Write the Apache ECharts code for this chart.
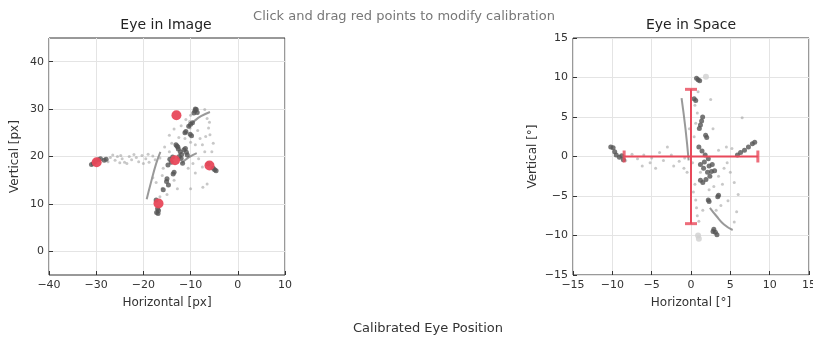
<!DOCTYPE html>
<html>
<head>
<meta charset="utf-8">
<script src="https://cdn.jsdelivr.net/npm/echarts@6/dist/echarts.min.js"></script>
<style>
  html, body { margin: 0; padding: 0; background: #fff; }
  #chart { width: 813px; height: 338px; }
</style>
</head>
<body>
<div id="chart"></div>
<script>
// ---- Eye in Image (pixel coordinates) ----
const imgXTicks = [-40, -30, -20, -10, 0, 10];
const imgYTicks = [0, 10, 20, 30, 40];

// calibration points (draggable in the original tool)
const imgCalPoints = [[-29.9, 18.8], [-13.0, 28.7], [-13.3, 19.2], [-6.0, 18.1], [-16.8, 10.1]];

// dense fixation samples
const imgDense = [
  [-31.0, 18.3], [-30.6, 18.5], [-30.2, 18.9], [-29.5, 19.3], [-29.1, 19.5], [-27.9, 19.4], [-28.3, 19.2],
  [-17.2, 8.2], [-16.8, 8.6], [-17.0, 9.0], [-17.3, 10.8], [-16.9, 8.0],
  [-9.1, 29.6], [-8.8, 29.9], [-8.6, 29.3], [-9.3, 29.2], [-9.0, 30.0],
  [-10.4, 26.4], [-10.0, 26.8], [-9.6, 27.1],
  [-9.8, 24.4], [-10.1, 24.7], [-11.2, 25.0], [-11.0, 25.3],
  [-13.1, 22.5], [-12.9, 22.2], [-12.7, 22.0], [-12.6, 21.6], [-12.2, 21.0], [-11.9, 20.4], [-11.4, 21.4],
  [-11.1, 21.7], [-10.9, 20.9], [-10.7, 20.3], [-12.0, 19.6], [-11.7, 18.6], [-12.4, 20.0],
  [-14.4, 19.4], [-14.8, 18.2], [-13.8, 19.9], [-14.1, 18.8],
  [-13.7, 16.3], [-13.5, 16.7], [-15.1, 14.7], [-14.7, 14.0], [-15.0, 15.3], [-15.8, 13.0],
  [-6.3, 18.4], [-5.2, 17.5], [-4.6, 17.0], [-4.9, 17.2]
];

// saccade samples
const imgSparse = [
  [-27.0, 19.8], [-26.0, 19.2], [-25.5, 20.0], [-24.5, 19.5], [-24.0, 18.8], [-23.0, 20.0],
  [-22.5, 19.3], [-21.5, 19.8], [-21.0, 18.9], [-20.3, 20.2], [-19.5, 19.5], [-18.8, 18.8],
  [-18.0, 20.1], [-17.5, 19.3], [-27.5, 18.9], [-25.0, 18.7], [-23.5, 18.5], [-20.0, 18.5], [-16.5, 19.7],
  [-26.5, 20.3], [-22.0, 20.4], [-19.0, 20.5], [-24.8, 20.2],
  [-14.5, 24.5], [-13.5, 25.8], [-12.0, 26.5], [-11.0, 27.8], [-10.0, 28.7], [-7.0, 29.9],
  [-6.5, 28.0], [-6.2, 26.0], [-6.0, 27.2], [-5.9, 24.6], [-6.8, 24.2], [-7.5, 22.5], [-8.0, 23.8],
  [-9.0, 22.5], [-10.0, 23.0], [-10.1, 26.0], [-10.2, 27.4], [-8.5, 25.5], [-7.0, 21.0],
  [-8.3, 19.5], [-9.5, 18.5], [-10.5, 17.5], [-9.0, 16.5], [-7.5, 17.8], [-7.4, 13.5], [-6.5, 14.2],
  [-15.5, 22.0], [-14.5, 21.0], [-15.8, 17.5], [-16.0, 16.0], [-14.0, 19.0], [-13.5, 15.0],
  [-12.8, 13.2], [-16.5, 11.5], [-15.0, 12.0], [-14.0, 22.8], [-11.2, 23.8], [-12.5, 24.0],
  [-5.5, 21.0], [-5.2, 22.8], [-17.3, 14.5], [-18.0, 15.5], [-16.0, 13.3], [-17.5, 10.5], [-10.0, 13.2]
];

// smooth-pursuit traces
const imgTraces = [
  [[-19.3, 11.0], [-18.4, 14.5], [-17.3, 18.5], [-16.4, 21.0]],
  [[-10.5, 26.3], [-9.3, 27.4], [-7.8, 28.5], [-5.9, 29.4]],
  [[-11.9, 18.6], [-10.4, 19.8], [-8.7, 20.7]]
];

// ---- Eye in Space (degrees) ----
const spaceTicks = [-15, -10, -5, 0, 5, 10, 15];
const spaceTargetH = [-8.5, 8.5];
const spaceTargetV = [-8.5, 8.5];

const spaceDense = [
  [-10.2, 1.2], [-9.9, 1.1], [-9.7, 0.6], [-9.5, 0.2], [-9.1, -0.1], [-8.8, 0.1], [-8.6, -0.4],
  [0.7, 9.9], [1.1, 9.6], [0.9, 9.7],
  [0.4, 7.3], [0.6, 7.1],
  [1.06, 3.56], [1.2, 4.0], [1.35, 4.5], [1.48, 5.0],
  [1.86, 2.7], [2.0, 2.4],
  [1.0, 1.2], [1.4, 0.7], [1.8, 0.2], [2.2, -0.3], [1.7, -0.7], [1.2, -1.0], [1.6, -1.5],
  [2.1, -2.0], [2.6, -1.9], [3.0, -1.8], [2.4, -2.5], [1.9, -2.9], [1.5, -3.3], [1.2, -3.0],
  [2.3, -1.2], [2.7, -1.0],
  [2.2, -5.5], [2.3, -5.7], [3.5, -4.9], [3.4, -5.1],
  [2.9, -9.2], [3.1, -9.6], [3.3, -9.9], [2.8, -9.5],
  [5.9, 0.2], [6.3, 0.5], [6.8, 0.8], [7.3, 1.2], [7.8, 1.6], [8.1, 1.8]
];

const spaceFaint = [[1.9, 10.1], [1.0, -10.4], [0.9, -10.0]];

const spaceSparse = [
  [-8.3, -0.5], [-7.5, 0.3], [-6.8, -0.3], [-6.0, 0.2], [-5.0, -0.2], [-5.2, -0.8], [-4.0, 0.5],
  [-3.5, -0.5], [-2.5, 0.2], [-2.2, -1.2], [-1.5, -0.6], [-0.8, -0.2], [-0.9, -1.5], [-0.5, -2.0],
  [0.5, -3.5], [0.3, -4.5], [0.6, -5.5], [0.7, -6.5], [0.8, -7.5], [1.0, -8.2], [1.5, -6.8],
  [0.5, 6.5], [0.8, 5.5], [0.6, 4.2], [0.9, 8.2], [0.4, 2.5], [1.2, -2.0], [3.5, -2.5],
  [4.2, -1.5], [4.6, -0.8], [5.0, -2.0], [5.5, -3.3], [4.0, -3.5], [6.5, 4.9], [5.2, 1.0],
  [4.5, 1.2], [3.5, 0.8], [6.0, -4.8], [5.8, -7.0], [5.5, -8.3], [3.8, -6.2], [4.7, -5.6],
  [2.5, 7.2], [2.8, 3.5], [-3.0, 1.2], [-6.2, -1.2], [-4.5, -1.5], [-0.2, 3.5], [0.2, -0.8],
  [2.3, -4.2], [2.9, -3.8], [3.2, -6.8]
];

const spaceTraces = [
  [[-1.2, 7.4], [-0.7, 3.5], [-0.3, -0.5]],
  [[2.4, -6.5], [3.2, -7.5], [4.2, -8.6], [5.3, -9.3]]
];

// ---- styling ----
const FONT = 'DejaVu Sans';
const RED = '#e8485a';
const minus = v => String(v).replace('-', '\u2212');

function makeGrid(left) {
  return { left: left, top: 38, width: 236, height: 237, show: true,
           outerBoundsMode: 'none', containLabel: false,
           borderColor: '#333', borderWidth: 1, backgroundColor: '#fff' };
}
function makeAxis(gridIndex, min, max, name, gap, ticks) {
  return {
    type: 'value', gridIndex, min, max,
    name, nameLocation: 'middle', nameGap: gap,
    nameTextStyle: { fontFamily: FONT, fontSize: 12, color: '#333' },
    axisLine: { show: false, onZero: false },
    axisTick: { show: true, inside: true, length: 4, lineStyle: { color: '#333' }, customValues: ticks },
    axisLabel: { fontFamily: FONT, fontSize: 11, color: '#333', margin: 5, formatter: minus,
                 customValues: ticks, showMinLabel: true, showMaxLabel: true },
    splitLine: { show: true, lineStyle: { color: '#e4e4e4', width: 1 } }
  };
}

const series = [];
imgTraces.forEach(t => series.push({
  type: 'line', xAxisIndex: 0, yAxisIndex: 0, data: t, showSymbol: false, smooth: true,
  lineStyle: { color: '#808080', width: 2, opacity: 0.8 }, silent: true, z: 2
}));
series.push({ type: 'scatter', xAxisIndex: 0, yAxisIndex: 0, data: imgSparse, symbolSize: 3,
  itemStyle: { color: '#9a9a9a', opacity: 0.55 }, z: 2 });
series.push({ type: 'scatter', xAxisIndex: 0, yAxisIndex: 0, data: imgDense, symbolSize: 5,
  itemStyle: { color: '#555', opacity: 0.8 }, z: 3 });
series.push({ type: 'scatter', xAxisIndex: 0, yAxisIndex: 0, data: imgCalPoints, symbolSize: 10,
  itemStyle: { color: RED, opacity: 0.95 }, z: 5 });

spaceTraces.forEach(t => series.push({
  type: 'line', xAxisIndex: 1, yAxisIndex: 1, data: t, showSymbol: false, smooth: true,
  lineStyle: { color: '#808080', width: 2, opacity: 0.8 }, silent: true, z: 2
}));
series.push({ type: 'scatter', xAxisIndex: 1, yAxisIndex: 1, data: spaceSparse, symbolSize: 3,
  itemStyle: { color: '#9a9a9a', opacity: 0.55 }, z: 2 });
series.push({ type: 'scatter', xAxisIndex: 1, yAxisIndex: 1, data: spaceFaint, symbolSize: 6,
  itemStyle: { color: '#cfcfcf', opacity: 0.8 }, z: 2 });
// calibration target cross
series.push({ type: 'line', xAxisIndex: 1, yAxisIndex: 1, data: spaceTargetH.map(v => [v, 0]),
  showSymbol: false, lineStyle: { color: RED, width: 2 }, z: 4 });
series.push({ type: 'line', xAxisIndex: 1, yAxisIndex: 1, data: spaceTargetV.map(v => [0, v]),
  showSymbol: false, lineStyle: { color: RED, width: 2 }, z: 4 });
series.push({ type: 'scatter', xAxisIndex: 1, yAxisIndex: 1, data: spaceTargetH.map(v => [v, 0]),
  symbol: 'rect', symbolSize: [3, 12], itemStyle: { color: RED }, z: 4 });
series.push({ type: 'scatter', xAxisIndex: 1, yAxisIndex: 1, data: spaceTargetV.map(v => [0, v]),
  symbol: 'rect', symbolSize: [12, 3], itemStyle: { color: RED }, z: 4 });
series.push({ type: 'scatter', xAxisIndex: 1, yAxisIndex: 1, data: spaceDense, symbolSize: 5,
  itemStyle: { color: '#555', opacity: 0.8 }, z: 3 });

const chart = echarts.init(document.getElementById('chart'), null, { renderer: 'canvas' });
chart.setOption({
  animation: false,
  backgroundColor: '#fff',
  grid: [makeGrid(49), makeGrid(573)],
  xAxis: [
    makeAxis(0, -40, 10, 'Horizontal [px]', 22, imgXTicks),
    makeAxis(1, -15, 15, 'Horizontal [\u00b0]', 22, spaceTicks)
  ],
  yAxis: [
    makeAxis(0, -5, 45, 'Vertical [px]', 28, imgYTicks),
    makeAxis(1, -15, 15, 'Vertical [\u00b0]', 34, spaceTicks)
  ],
  graphic: [
    { type: 'text', x: 166, y: 25, style: { text: 'Eye in Image', fontFamily: FONT, fontSize: 14,
      fill: '#222', align: 'center', verticalAlign: 'middle' } },
    { type: 'text', x: 691, y: 25, style: { text: 'Eye in Space', fontFamily: FONT, fontSize: 14,
      fill: '#222', align: 'center', verticalAlign: 'middle' } },
    { type: 'text', x: 404, y: 17, style: { text: 'Click and drag red points to modify calibration',
      fontFamily: FONT, fontSize: 13, fill: '#777', align: 'center', verticalAlign: 'middle' } },
    { type: 'text', x: 428, y: 329, style: { text: 'Calibrated Eye Position', fontFamily: FONT,
      fontSize: 13, fill: '#333', align: 'center', verticalAlign: 'middle' } }
  ],
  series
});
</script>
</body>
</html>
